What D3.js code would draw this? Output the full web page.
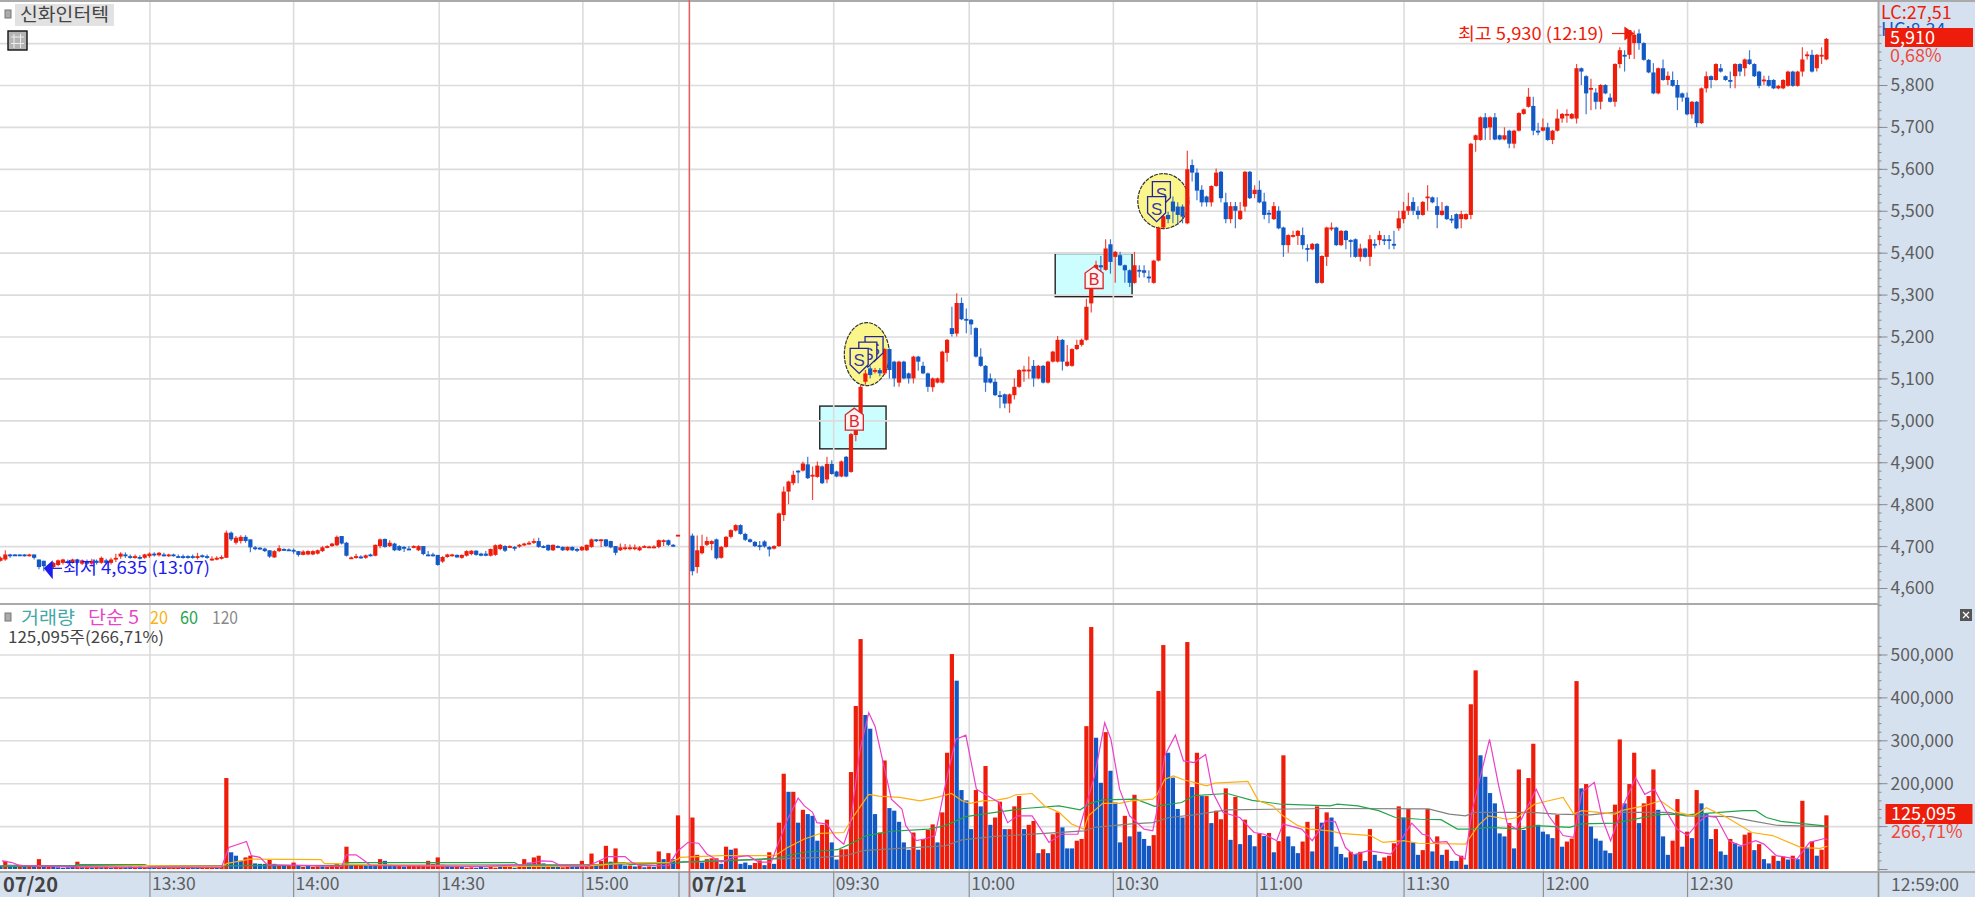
<!DOCTYPE html>
<html>
<head>
<meta charset="utf-8">
<script src="https://cdn.jsdelivr.net/npm/d3@7"></script>
<style>
  html, body { margin: 0; padding: 0; background: #fff; overflow: hidden; }
  text { font-family: "Liberation Sans Narrow", "Noto Sans CJK KR", sans-serif; }
  .kr { font-family: "Noto Sans CJK KR", sans-serif; }
  .axis path { display: none; }
</style>
</head>
<body>
<div id="chart"></div>
<script>
// one candle a minute, 07/20 afternoon then 07/21 morning. null = no trade
const opens = [
  4665,4668,4680,4680,4680,4680,4677,4680,4668,4665,
  4652,4650,4655,4660,4664,4660,4668,4658,4664,4658,
  4665,4660,4666,4660,4668,4675,4680,4676,4674,4674,
  4672,4676,4682,4678,4680,4678,4680,4676,4676,4676,
  4676,4672,4678,4676,4668,4668,4670,4672,4732,4708,
  4712,4722,4716,4697,4696,4694,4690,4673,4688,4693,
  4692,4691,4688,4679,4680,4680,4682,4688,4697,4700,
  4702,4724,4708,4670,4672,4675,4672,4680,4677,4700,
  4717,4700,4706,4700,4698,4694,4696,4690,4700,4680,
  4680,4679,4663,4674,4677,4679,4672,4677,4681,4689,
  4682,4682,4677,4679,4693,4700,4698,4698,4699,4702,
  4705,4708,4712,4700,4703,4690,4700,4698,4690,4698,
  4693,4690,4690,4698,4716,4712,4716,4712,4700,4690,
  4696,4696,4695,4690,4699,4698,4697,4698,4712,4714,
  4703,4726,null,null,4725,4650,4683,4703,4705,4716,
  4672,4698,4722,4737,4750,4729,4716,4710,4702,4711,
  4698,4694,4700,4774,4830,4850,4880,4880,4895,4867,
  4865,4890,4859,4896,4878,4866,4913,4877,4965,5015,
  5092,5124,5118,5120,5112,5170,5140,5090,5140,5112,
  5100,5152,5130,5112,5079,5090,5090,5161,5220,5207,
  5280,5242,5240,5220,5152,5130,5100,5092,5060,5062,
  5040,5060,5080,5120,5120,5130,5100,5130,5090,5140,
  5140,5192,5130,5130,5170,5180,5192,5279,5337,5370,
  5359,5420,5390,5394,5370,5358,5328,5359,5358,5343,
  5328,5381,5460,5490,5522,5510,5510,5470,5609,5591,
  5550,5534,5520,5559,5593,5520,5480,5511,5480,5510,
  5593,5540,5550,5522,5495,5480,5500,5460,5418,5438,
  5440,5442,5411,5408,5421,5328,5390,5458,5460,5418,
  5452,5430,5432,5390,5410,5390,5421,5430,5432,5432,
  5421,5458,5480,5500,5521,5500,5490,5532,5532,5511,
  5490,5511,5481,5492,5480,5480,5490,5669,5669,5723,
  5699,5723,5680,5670,5691,5660,5691,5731,5748,5750,
  5691,5691,5699,5669,5691,5720,5728,5720,5720,5840,
  5821,5792,5782,5760,5800,5770,5760,5850,5872,5872,
  5900,5923,5900,5860,5830,5780,5840,5812,5812,5800,
  5780,5770,5730,5760,5709,5792,5821,5812,5840,5821,
  5812,5821,5850,5840,5861,5850,5832,5812,5812,5812,
  5792,5792,5798,5832,5798,5832,5872,5872,5840,5870,
  5861
];
const closes = [
  4672,4680,4678,4678,4678,4678,4680,4672,4650,4652,
  4646,4660,4666,4668,4660,4668,4660,4666,4658,4665,
  4660,4672,4660,4668,4672,4682,4676,4674,4676,4672,
  4680,4682,4680,4684,4678,4680,4678,4675,4675,4674,
  4675,4676,4675,4675,4670,4672,4674,4732,4716,4720,
  4722,4712,4697,4694,4694,4688,4675,4688,4695,4692,
  4691,4690,4679,4687,4688,4688,4690,4697,4700,4706,
  4722,4706,4677,4673,4676,4674,4678,4677,4703,4716,
  4698,4708,4690,4690,4696,4693,4700,4700,4681,4678,
  4676,4655,4674,4680,4680,4673,4679,4688,4689,4679,
  4677,4677,4693,4702,4703,4689,4700,4697,4703,4706,
  4708,4712,4698,4697,4690,4703,4697,4690,4698,4690,
  4692,4698,4703,4716,4712,4716,4700,4697,4684,4697,
  4697,4697,4697,4697,4700,4699,4699,4714,4714,4703,
  4701,4727,null,null,4640,4690,4700,4712,4712,4671,
  4698,4722,4738,4750,4729,4715,4710,4700,4700,4699,
  4692,4700,4778,4830,4854,4870,4877,4897,4862,4870,
  4892,4850,4896,4872,4866,4902,4866,4967,5015,5080,
  5112,5108,5120,5112,5170,5120,5100,5140,5100,5100,
  5152,5140,5112,5080,5100,5100,5164,5192,5206,5280,
  5241,5240,5229,5152,5130,5090,5090,5060,5057,5040,
  5062,5080,5120,5121,5121,5100,5130,5090,5140,5164,
  5192,5140,5140,5170,5180,5192,5271,5315,5371,5365,
  5410,5378,5402,5370,5358,5328,5370,5358,5352,5342,
  5381,5460,5487,5480,5498,5490,5486,5599,5591,5548,
  5520,5520,5559,5591,5530,5480,5511,5500,5500,5593,
  5530,5550,5520,5490,5493,5511,5458,5418,5442,5442,
  5452,5418,5408,5421,5328,5392,5460,5460,5418,5452,
  5430,5428,5390,5410,5390,5432,5419,5442,5430,5430,
  5420,5482,5500,5511,5500,5490,5521,5534,5520,5490,
  5500,5480,5480,5458,5492,5492,5660,5680,5723,5697,
  5723,5670,5670,5680,5660,5691,5733,5742,5772,5691,
  5690,5699,5669,5691,5720,5731,5731,5731,5840,5832,
  5780,5793,5760,5800,5780,5760,5850,5883,5870,5931,
  5920,5900,5860,5830,5780,5840,5812,5822,5798,5770,
  5770,5730,5760,5709,5792,5821,5812,5850,5832,5812,
  5811,5850,5832,5861,5850,5821,5798,5813,5798,5792,
  5798,5812,5832,5798,5832,5861,5873,5832,5872,5872,
  5910
];
const highs = [
  4675,4690,4682,4681,4680,4681,4682,4680,4668,4665,
  4656,4662,4668,4670,4668,4670,4670,4668,4668,4670,
  4668,4675,4670,4672,4682,4685,4685,4680,4680,4678,
  4682,4685,4685,4686,4684,4682,4682,4680,4680,4678,
  4680,4684,4680,4680,4676,4676,4678,4737,4735,4724,
  4726,4726,4716,4700,4698,4696,4690,4690,4702,4695,
  4694,4694,4688,4690,4690,4690,4692,4700,4702,4708,
  4725,4724,4710,4675,4682,4678,4680,4682,4704,4718,
  4718,4714,4708,4702,4700,4700,4702,4702,4700,4688,
  4684,4679,4676,4682,4682,4680,4680,4690,4690,4690,
  4684,4688,4694,4704,4705,4702,4702,4700,4705,4708,
  4712,4718,4720,4702,4703,4704,4702,4699,4699,4699,
  4696,4700,4704,4718,4717,4717,4717,4713,4700,4706,
  4705,4704,4704,4700,4702,4701,4702,4716,4716,4716,
  4705,4727,null,null,4730,4725,4727,4722,4714,4718,
  4700,4724,4740,4752,4752,4732,4718,4712,4712,4714,
  4700,4702,4780,4842,4856,4880,4881,4901,4913,4890,
  4902,4892,4913,4905,4880,4904,4915,4970,5020,5085,
  5120,5130,5125,5125,5172,5172,5142,5142,5142,5114,
  5154,5154,5140,5114,5102,5102,5166,5194,5271,5303,
  5293,5267,5242,5222,5172,5132,5112,5100,5070,5064,
  5064,5100,5122,5130,5152,5144,5132,5132,5142,5166,
  5201,5194,5180,5172,5192,5195,5290,5318,5381,5392,
  5432,5432,5404,5402,5372,5360,5402,5370,5370,5358,
  5383,5462,5490,5498,5534,5520,5515,5643,5622,5601,
  5561,5536,5561,5601,5595,5543,5521,5521,5521,5595,
  5595,5561,5572,5543,5502,5521,5511,5462,5444,5452,
  5454,5460,5420,5423,5423,5394,5462,5472,5462,5454,
  5454,5432,5434,5421,5412,5442,5432,5452,5442,5442,
  5452,5500,5521,5543,5532,5511,5523,5561,5534,5532,
  5521,5513,5490,5494,5500,5494,5662,5682,5725,5733,
  5725,5733,5682,5699,5693,5693,5735,5744,5793,5772,
  5710,5720,5710,5693,5742,5733,5742,5733,5850,5842,
  5823,5815,5792,5802,5802,5780,5852,5890,5883,5931,
  5930,5933,5902,5862,5852,5842,5861,5832,5832,5812,
  5782,5782,5762,5762,5794,5832,5823,5852,5850,5823,
  5832,5852,5852,5863,5883,5852,5834,5822,5822,5814,
  5800,5814,5834,5834,5834,5890,5880,5884,5874,5890,
  5912
];
const lows = [
  4663,4665,4672,4677,4678,4675,4675,4668,4645,4640,
  4635,4648,4652,4656,4658,4658,4656,4655,4655,4655,
  4656,4658,4656,4656,4662,4670,4672,4670,4670,4668,
  4670,4672,4675,4675,4675,4674,4675,4672,4670,4670,
  4670,4668,4672,4670,4665,4666,4668,4672,4712,4704,
  4706,4708,4685,4690,4692,4686,4672,4672,4686,4690,
  4690,4682,4675,4678,4678,4678,4680,4686,4695,4698,
  4700,4704,4675,4670,4670,4670,4670,4675,4676,4695,
  4696,4698,4688,4688,4686,4692,4695,4688,4678,4676,
  4675,4653,4660,4672,4675,4672,4670,4675,4678,4677,
  4676,4676,4675,4677,4690,4686,4696,4689,4696,4700,
  4703,4705,4696,4695,4688,4688,4695,4688,4688,4688,
  4686,4688,4688,4696,4710,4698,4698,4695,4678,4688,
  4690,4690,4690,4688,4696,4696,4695,4695,4700,4700,
  4698,4726,null,null,4630,4635,4680,4700,4690,4668,
  4670,4696,4718,4735,4727,4712,4708,4698,4690,4696,
  4675,4692,4698,4760,4800,4845,4850,4878,4860,4810,
  4863,4848,4850,4870,4864,4864,4864,4875,4950,5012,
  5085,5100,5112,5105,5108,5100,5080,5080,5098,5088,
  5088,5118,5110,5068,5068,5088,5088,5140,5200,5200,
  5239,5208,5204,5150,5128,5068,5088,5058,5029,5029,
  5018,5050,5078,5092,5100,5080,5098,5088,5088,5138,
  5138,5119,5128,5128,5168,5176,5190,5257,5335,5350,
  5357,5350,5328,5368,5328,5318,5326,5341,5341,5328,
  5326,5379,5458,5470,5470,5466,5470,5468,5570,5525,
  5510,5510,5510,5557,5520,5470,5470,5458,5478,5498,
  5528,5530,5518,5480,5470,5478,5456,5390,5400,5436,
  5418,5408,5379,5406,5326,5326,5368,5452,5416,5416,
  5408,5389,5388,5379,5388,5368,5410,5418,5418,5408,
  5408,5452,5470,5490,5490,5480,5488,5500,5518,5458,
  5488,5478,5470,5456,5458,5478,5480,5641,5667,5669,
  5669,5668,5668,5668,5649,5649,5689,5729,5746,5680,
  5680,5689,5667,5659,5689,5710,5710,5718,5708,5800,
  5730,5740,5742,5742,5778,5758,5748,5840,5832,5862,
  5862,5884,5858,5828,5778,5778,5810,5800,5796,5740,
  5760,5728,5720,5699,5707,5782,5792,5810,5830,5810,
  5792,5792,5821,5821,5848,5819,5792,5800,5796,5790,
  5790,5790,5796,5796,5796,5820,5861,5830,5832,5850,
  5859
];

// volume in thousands of shares, with the up/down side of each bar
const volumes = [
  8,19,10,10,10,5,8,8,23,8,
  8,5,4,3,4,8,17,5,8,4,
  5,4,6,3,5,4,4,6,5,6,
  3,4,5,3,6,6,4,3,5,3,
  4,3,5,3,6,4,8,212,39,31,
  19,27,31,13,12,12,21,12,9,9,
  9,15,8,5,7,5,6,6,5,8,
  12,8,52,10,10,10,8,8,10,23,
  19,10,8,8,6,8,7,8,8,19,
  12,27,10,8,6,6,5,3,4,3,
  6,3,5,3,8,6,5,3,6,23,
  15,27,31,13,10,8,5,4,5,6,
  6,19,6,36,8,19,54,17,48,12,
  8,8,6,8,4,6,5,41,23,37,
  23,125,null,null,120,33,15,23,25,25,
  12,52,45,48,12,15,9,14,20,9,
  39,12,108,222,180,180,108,138,128,124,
  66,103,115,62,22,46,46,226,380,536,
  359,327,128,85,253,142,136,110,62,45,
  85,45,70,91,104,62,132,271,501,439,
  184,160,93,184,146,240,103,120,157,93,
  93,146,170,93,103,112,37,46,37,81,
  132,97,48,48,66,70,333,564,306,201,
  319,229,155,62,124,76,173,87,70,54,
  79,415,522,271,213,140,120,529,191,271,
  170,170,107,136,116,188,68,168,58,115,
  79,53,83,77,84,39,65,265,76,53,
  37,64,110,41,146,108,132,120,52,35,
  27,40,35,40,19,93,33,19,27,31,
  60,146,120,140,62,33,44,140,41,76,
  33,45,19,19,31,10,384,463,265,215,
  177,153,83,76,107,48,232,91,212,292,
  103,87,81,72,126,52,64,71,438,188,
  198,99,71,66,43,37,150,302,153,198,
  271,107,153,170,232,138,76,33,66,163,
  52,87,72,184,153,128,70,93,41,33,
  70,60,53,80,85,44,58,23,13,31,
  19,29,22,31,23,159,50,64,31,45,
  125.095
];
const volumeSides = (
  "BRBBRBRBRB" + "RBBBBBRBRB" + "RBRBRRBBRB" + "RBBRBRRRBR" + "BBRRRBRRBB" +
  "BRRBBBRBRB" + "RRBRBRRBRR" + "RRRBRRBBBR" + "BBBRBRRRRR" + "RRRBBRBRRB" +
  "BBRRBRRBRR" + "BRRBRBBRRB" + "BRRRBRRBRB" + "BRBRBRBRBR" + "BR..RRBRRR" +
  "BRBRBBBRRB" + "RBRRBRBRBB" + "BRRBBRRRRR" + "BBBRRBBBBB" + "RBRRRBRRRB" +
  "BBBRBRBRRB" + "RRRBRRBRBR" + "RBBBRRRRBB" + "RBBBRBRBBB" + "RRRBBBBRBR" +
  "BRBRRRBRBR" + "BBRBRBRRBB" + "BRRBRBRBBB" + "BRBRBRBBRR" + "RRBRBBRRBR" +
  "BRBBRBRRBB" + "BBBBRBRBRR" + "BBBBRBRRRB" + "RBBBBBRRBR" + "RBRRRBBBRR" +
  "BRBRBBBRBB" + "RBBRRBRBBR" + "BRBRBRBRBR" + "R"
).split("");

// moving averages, read at their corners: bar position and value (thousands)
const ma5Index = [0.3,2.4,4,16,30,46,47.5,51.2,52.2,54,55.5,71,72,74,75.9,77,100,109,112.7,114.8,116.5,122,123.4,126.5,130,131.4,133,139,141,
  141.4,143.1,145.3,147,148.3,150,152.6,155.6,157.8,160.4,161.7,163.8,166,167.3,169,169.9,172,173.8,175.5,176.8,178.9,180.7,182,183.7,185.4,187.6,188.4,190.6,192.3,194.5,196.6,198.8,200.9,203.1,207.8,209.6,211.7,214.7,216.5,218.2,220.8,224.2,225.5,227.7,229.8,231.1,232.9,235,238,239.8,240.6,242.3,244.5,246.2,248.4,250.8,252.3,254.4,257.9,260.9,263,265.6,266.9,270.8,273,275.8,
  277.8,279.9,281.6,284.7,289.4,291.6,293.7,295.9,297.2,298.2,301,302.8,304.8,306.2,308,309.9,311.8,313.6,315.5,319.6,322.2,325.2,327.4,329.1,331.7,333.4,335.1,337.7,340.3,342.2,344.2,346.4,348.9,351.1,353.3,355,357.1,359.7,362.3,365.3,367,369.6,373.9,376.5,379.6,380.2];
const ma5Values = [19,15,8,5,4,4,50,64,31,27,10,6,33,33,18,8,6,10,19,18,8,6,13,29,29,15,8,8,43,
  46,62,60,35,27,16,27,31,16,16,54,116,165,147,132,108,105,74,58,101,279,364,333,248,163,140,101,66,70,78,194,302,312,186,155,108,124,124,93,62,81,81,132,217,341,302,186,124,93,89,132,264,312,252,248,267,178,132,120,85,81,66,105,93,66,112,
  110,50,33,43,35,70,107,81,78,62,64,35,23,132,217,302,194,105,93,186,124,78,74,178,202,116,66,147,213,174,186,140,93,78,108,124,120,66,54,66,58,31,23,62,71,68];
const ma20Index = [16,30,46,47.2,52,66.7,67.4,76,100,116,123,131,139,141,
  141.4,150,161.2,163.8,167.3,170.7,175.5,177.6,180.7,182.8,187.1,191.4,194.9,197.9,200.1,201.8,204.4,207,209.6,211.3,214.7,217.3,220.3,222.9,225.5,226.4,229.4,232.9,235.4,239.8,240.6,242.3,244.1,246.2,248.4,251,252.7,259.6,261.8,264.8,266.9,270,272.5,276.7,
  279,285.1,287.7,292,295,304.9,307.5,309.7,313.6,315.7,319.2,322.2,325.2,327.4,329.1,336,337.3,342,345.5,348.9,352.4,355,359.3,364.5,368.8,374.8,378.7,380.2];
const ma20Values = [5,8,6,13,23,22,13,10,6,6,8,15,15,23,
  27,31,31,50,70,83,85,124,174,170,167,159,167,176,159,153,159,160,165,173,176,147,132,105,93,124,153,153,159,163,171,209,217,208,202,194,200,204,159,147,124,101,93,89,
  83,78,62,66,60,58,101,124,116,120,151,159,167,128,136,128,136,147,159,132,124,143,120,85,78,50,48,53];
const ma60Index = [0,15,16,30,31,46,47,71,72,107,108,125,126,130,131,141,
  141.4,150.9,161.2,163.8,167.3,174.2,176.8,180.2,185.4,193.2,196.6,200.9,207,213,220.3,224.7,226.8,229.4,236.3,240.2,245.8,248.4,255.3,260.5,266.5,276.7,
  278.2,282.5,286.8,290.3,295.4,299.8,303.2,305.8,310.1,316.2,319.6,326.5,329.1,336,344.6,347.2,350.7,362.7,365.3,367.5,370.5,379.1,380.2];
const ma60Values = [6,6,10,10,6,6,8,8,15,15,8,8,13,15,10,14,
  16,19,25,31,39,45,58,78,88,93,101,122,132,141,147,138,153,161,163,146,155,171,176,160,151,147,
  151,147,136,120,116,115,93,93,97,93,101,97,105,107,126,128,126,136,136,120,111,101,99];
const ma120Index = [0,47,125,141,141.4,170.7,175.9,179.4,189.7,196.6,200.1,207,217.3,225.5,227.7,235.4,239.8,243.2,248.4,255.3,276.7,297.2,301.5,304.9,306.7,318.7,323.9,330.8,336,347.2,350.7,360.2,364.5,369.6,380.2];
const ma120Values = [8,8,10,14,16,27,31,43,50,54,68,76,83,89,97,105,108,120,126,138,141,140,128,124,132,132,128,126,132,132,124,122,112,102,99];

// ticks
const priceTicks = [4600,4700,4800,4900,5000,5100,5200,5300,5400,5500,5600,5700,5800,5900];
const volumeTicks = [0,100,200,300,400,500];
const timeIndex = [31,60.9,91.2,121.1,143.35,173.3,201.5,231.5,261.4,292,321,351];
const timeLabels = ["13:30","14:00","14:30","15:00","07/21","09:30","10:00","10:30","11:00","11:30","12:00","12:30"];
const dayBreakIndex = 141.1;

// signal markers
const boxIndex = [[170.5,184.3],[219.5,235.5]];
const boxPrice = [[5034,4932],[5398,5295]];
const ovalIndex = [180.3,242];
const ovalPrice = [5158,5523];
const buyIndex = [177.7,227.6];
const buyPrice = [5029,5367];
const sellIndex = [181.8,180.5,178.7,241.6,240.6];
const sellPrice = [5140,5127,5112,5510,5474];

const width = 1975, height = 897;
const plotRight = 1878.5, axisTop = 872;
const red = "#ee1c0a", blue = "#1259c6";
const gridColor = "#dcdcdc", panelColor = "#d6e1ef";

const svg = d3.select("#chart").append("svg")
  .attr("width", width).attr("height", height)
  .style("display", "block");

const x = d3.scaleLinear().domain([0, 380]).range([0.5, 1826.4]);
const yPrice = d3.scaleLinear().domain([4600, 5800]).range([588, 85]);
const yVolume = d3.scaleLinear().domain([0, 500]).range([869, 654.5]);

svg.append("rect").attr("width", width).attr("height", height).attr("fill", "#fff");

// axis panels
svg.append("rect").attr("x", plotRight).attr("width", width - plotRight).attr("height", height).attr("fill", panelColor);
svg.append("rect").attr("y", axisTop).attr("width", width).attr("height", height - axisTop).attr("fill", panelColor);

// cyan buy boxes sit under the grid
boxIndex.forEach((b, k) => {
  svg.append("rect")
    .attr("x", x(b[0])).attr("width", x(b[1]) - x(b[0]))
    .attr("y", yPrice(boxPrice[k][0])).attr("height", yPrice(boxPrice[k][1]) - yPrice(boxPrice[k][0]))
    .attr("fill", "#ccfdff").attr("stroke", "#222").attr("stroke-width", 1.4);
});

// grid
function styleGrid(g) {
  g.attr("class", "axis");
  g.selectAll("line").attr("stroke", gridColor).attr("stroke-width", 1.6);
  g.selectAll("text").remove();
}
svg.append("g").attr("transform", `translate(${plotRight},0)`)
  .call(d3.axisRight(yPrice).tickValues(priceTicks).tickSize(-plotRight)).call(styleGrid);
svg.append("g").attr("transform", `translate(${plotRight},0)`)
  .call(d3.axisRight(yVolume).tickValues(volumeTicks.slice(1)).tickSize(-plotRight)).call(styleGrid);
svg.append("g").attr("transform", `translate(0,${axisTop})`)
  .call(d3.axisTop(x).tickValues(timeIndex.concat([dayBreakIndex])).tickSize(axisTop - 2)).call(styleGrid);

// oval behind the candles
ovalIndex.forEach((d, k) => {
  svg.append("ellipse")
    .attr("cx", x(d)).attr("cy", yPrice(ovalPrice[k]))
    .attr("rx", k ? 25.5 : 22.5).attr("ry", k ? 27.5 : 31.5)
    .attr("fill", "#fbf68c").attr("stroke", "#333").attr("stroke-width", 1.2).attr("stroke-dasharray", "4,1");
});

// candles
const bars = d3.range(opens.length).filter(i => opens[i] !== null);
const candleWidth = 4.2;
const candles = svg.append("g").selectAll("g").data(bars).join("g")
  .attr("fill", i => closes[i] >= opens[i] ? red : blue)
  .attr("stroke", i => closes[i] >= opens[i] ? red : blue);
candles.append("line")
  .attr("x1", i => x(i)).attr("x2", i => x(i))
  .attr("y1", i => yPrice(highs[i])).attr("y2", i => yPrice(lows[i]))
  .attr("stroke-width", 1.2).attr("stroke-opacity", 0.8);
candles.append("rect")
  .attr("x", i => x(i) - candleWidth / 2).attr("width", candleWidth)
  .attr("y", i => yPrice(Math.max(opens[i], closes[i])))
  .attr("height", i => Math.max(1.8, Math.abs(yPrice(opens[i]) - yPrice(closes[i]))))
  .attr("stroke", "none");

// volume bars
const barWidth = 4.2;
svg.append("g").selectAll("rect").data(bars).join("rect")
  .attr("x", i => x(i) - barWidth / 2).attr("width", barWidth)
  .attr("y", i => yVolume(volumes[i]))
  .attr("height", i => yVolume(0) - yVolume(volumes[i]))
  .attr("fill", i => volumeSides[i] === "R" ? red : blue);

// moving averages
const maLine = d3.line().x(d => x(d[0])).y(d => yVolume(d[1]));
[[ma120Index, ma120Values, "#808080"], [ma60Index, ma60Values, "#22a54a"],
 [ma20Index, ma20Values, "#fdb012"], [ma5Index, ma5Values, "#ee3fc8"]].forEach(m => {
  svg.append("path")
    .attr("d", maLine(d3.zip(m[0], m[1])))
    .attr("fill", "none").attr("stroke", m[2]).attr("stroke-width", 1.2);
});

// B and S signals
function house(cx, top, w, h) {
  return [[cx, top], [cx + w / 2, top + h * 0.3], [cx + w / 2, top + h], [cx - w / 2, top + h], [cx - w / 2, top + h * 0.3]];
}
function shield(cx, tip, w, h) {
  return [[cx - w / 2, tip - h], [cx + w / 2, tip - h], [cx + w / 2, tip - h * 0.35], [cx, tip], [cx - w / 2, tip - h * 0.35]];
}
buyIndex.forEach((d, k) => {
  const cx = x(d), top = yPrice(buyPrice[k]);
  svg.append("polygon").attr("points", house(cx, top, 18, 22).join(" "))
    .attr("fill", "#fff2f2").attr("stroke", "#d8242a").attr("stroke-width", 1.3);
  svg.append("text").attr("x", cx).attr("y", top + 19).attr("text-anchor", "middle")
    .attr("font-size", 16).style("font-family", "'Liberation Sans'").attr("fill", "#d8242a").text("B");
});
sellIndex.forEach((d, k) => {
  const cx = x(d), tip = yPrice(sellPrice[k]);
  svg.append("polygon").attr("points", shield(cx, tip, 18, 25).join(" "))
    .attr("fill", "#fbf68c").attr("stroke", "#24249a").attr("stroke-width", 1.3);
  svg.append("text").attr("x", cx).attr("y", tip - 7).attr("text-anchor", "middle")
    .attr("font-size", 17).style("font-family", "'Liberation Sans'").attr("fill", "#3a3aa8").text("S");
});

// high and low notes
const noteHigh = svg.append("g").attr("fill", red);
noteHigh.append("text").attr("class", "kr").attr("x", 1458).attr("y", yPrice(5930) + 9)
  .attr("font-size", 17).attr("textLength", 146).attr("lengthAdjust", "spacingAndGlyphs").text("최고 5,930 (12:19)");
noteHigh.append("line").attr("x1", 1612).attr("x2", 1630).attr("y1", yPrice(5930) + 3).attr("y2", yPrice(5930) + 3)
  .attr("stroke", red).attr("stroke-width", 1.2);
noteHigh.append("polygon").attr("transform", `translate(${x(339) + 4},${yPrice(5930) + 3})`)
  .attr("points", "-9,-7 1,0 -9,7");

const noteLow = svg.append("g").attr("fill", "#1c1cf0");
noteLow.append("text").attr("class", "kr").attr("x", 63).attr("y", yPrice(4635) + 1)
  .attr("font-size", 17).attr("textLength", 147).attr("lengthAdjust", "spacingAndGlyphs").text("최저 4,635 (13:07)");
noteLow.append("polygon").attr("transform", `translate(${x(9)},${yPrice(4635) - 5})`)
  .attr("points", "0,0 9,-8 9,11");
noteLow.append("line").attr("x1", 50).attr("x2", 62).attr("y1", yPrice(4635) - 5).attr("y2", yPrice(4635) - 5)
  .attr("stroke", "#1c1cf0").attr("stroke-width", 1.2);

// frame lines
svg.append("rect").attr("width", width).attr("height", 2).attr("fill", "#aaa");
svg.append("rect").attr("y", 603).attr("width", plotRight).attr("height", 2).attr("fill", "#aaa");
svg.append("rect").attr("y", axisTop - 1).attr("width", width).attr("height", 2).attr("fill", "#a8a8a8");
svg.append("rect").attr("x", plotRight - 1).attr("width", 2).attr("height", height).attr("fill", "#a8a8a8");

// day change marker
svg.append("line").attr("x1", x(143.35)).attr("x2", x(143.35)).attr("y1", 0).attr("y2", height)
  .attr("stroke", "#ea5a5a").attr("stroke-width", 1.4);

// right axes
function styleValueAxis(g) {
  g.attr("class", "axis");
  g.selectAll("line").attr("stroke", "#8a8a8a");
  g.selectAll("text").attr("fill", "#5e5e5e").attr("font-size", 17.5).attr("dy", "0.34em");
}
const fmt = d3.format(",");
const priceMinor = d3.range(4560, 5960, 20);
svg.append("g").attr("transform", `translate(${plotRight},0)`)
  .call(d3.axisRight(yPrice).tickValues(priceMinor).tickSize(3).tickFormat(""))
  .call(styleValueAxis);
svg.append("g").attr("transform", `translate(${plotRight},0)`)
  .call(d3.axisRight(yPrice).tickValues(priceTicks.slice(0, 13)).tickSize(9).tickPadding(3).tickFormat(fmt))
  .call(styleValueAxis);
svg.append("g").attr("transform", `translate(${plotRight},0)`)
  .call(d3.axisRight(yVolume).tickValues(d3.range(0, 560, 20)).tickSize(3).tickFormat(""))
  .call(styleValueAxis);
svg.append("g").attr("transform", `translate(${plotRight},0)`)
  .call(d3.axisRight(yVolume).tickValues(volumeTicks).tickSize(9).tickPadding(3)
    .tickFormat(d => d >= 200 ? fmt(d * 1000) : ""))
  .call(styleValueAxis);

// bottom axis
const timeAxis = svg.append("g").attr("transform", `translate(0,${axisTop})`)
  .call(d3.axisBottom(x).tickValues(timeIndex.concat([dayBreakIndex])).tickSize(25)
    .tickFormat(d => { const k = timeIndex.indexOf(d); return k < 0 ? "" : timeLabels[k]; }));
timeAxis.attr("class", "axis");
timeAxis.selectAll("line").attr("stroke", "#8f8f8f").attr("stroke-width", 1.2);
timeAxis.selectAll("text")
  .attr("text-anchor", "start").attr("x", 2).attr("y", 6).attr("dy", "0.71em")
  .attr("fill", "#5e5e5e").attr("font-size", 17.5)
  .filter(d => d === 143.35).attr("fill", "#444").attr("font-weight", "bold").attr("font-size", 20);
svg.append("text").attr("x", 3).attr("y", 892).attr("fill", "#444").attr("font-weight", "bold").attr("font-size", 20).text("07/20");
svg.append("text").attr("x", 1891).attr("y", 891).attr("fill", "#5e5e5e").attr("font-size", 17.5).text("12:59:00");
svg.append("line").attr("x1", plotRight).attr("x2", plotRight).attr("y1", axisTop).attr("y2", height).attr("stroke", "#8f8f8f");

// top right readouts
svg.append("text").attr("x", 1881).attr("y", 19).attr("fill", red).attr("font-size", 18).text("LC:27,51");
svg.append("text").attr("x", 1881).attr("y", 36).attr("fill", blue).attr("font-size", 18).text("HC:8,34");
svg.append("rect").attr("x", 1885).attr("y", 28).attr("width", 88).attr("height", 19).attr("fill", red);
svg.append("text").attr("x", 1890).attr("y", 44).attr("fill", "#fff").attr("font-size", 18).text("5,910");
svg.append("text").attr("x", 1890).attr("y", 62).attr("fill", "#ee4a3c").attr("font-size", 18).text("0,68%");
svg.append("rect").attr("x", 1885.5).attr("y", 804).attr("width", 87).attr("height", 20).attr("fill", red);
svg.append("text").attr("x", 1891).attr("y", 820).attr("fill", "#fff").attr("font-size", 18).text("125,095");
svg.append("text").attr("x", 1891).attr("y", 838).attr("fill", "#ee4a3c").attr("font-size", 18).text("266,71%");

// title and legend
svg.append("rect").attr("x", 5).attr("y", 10).attr("width", 6).attr("height", 8).attr("fill", "#aaa").attr("stroke", "#777");
svg.append("rect").attr("x", 15).attr("y", 4).attr("width", 99).attr("height", 22).attr("fill", "#e2e2e2");
svg.append("text").attr("class", "kr").attr("x", 20).attr("y", 21).attr("fill", "#444").attr("font-size", 18)
  .attr("textLength", 89).attr("lengthAdjust", "spacingAndGlyphs").text("신화인터텍");
const tableIcon = svg.append("g").attr("transform", "translate(8,31)");
tableIcon.append("rect").attr("width", 19).attr("height", 19).attr("fill", "#b4b4b4").attr("stroke", "#111").attr("stroke-width", 1.4);
[6, 12.5].forEach(v => tableIcon.append("line").attr("x1", v).attr("x2", v).attr("y1", 3).attr("y2", 17).attr("stroke", "#eee"));
[6, 12.5].forEach(v => tableIcon.append("line").attr("y1", v).attr("y2", v).attr("x1", 3).attr("x2", 16).attr("stroke", "#eee"));

svg.append("rect").attr("x", 5).attr("y", 613).attr("width", 6).attr("height", 8).attr("fill", "#aaa").attr("stroke", "#777");
const legendNames = ["거래량", "단순 5", "20", "60", "120"];
const legendX = [21, 88, 150, 180, 212];
const legendLength = [54, 51, 18, 18, 26];
const legendColors = ["#44a8a8", "#e648c4", "#f8b414", "#2aa552", "#8a8a8a"];
legendNames.forEach((t, k) => {
  svg.append("text").attr("class", "kr").attr("x", legendX[k]).attr("y", 624)
    .attr("font-size", 18).attr("fill", legendColors[k])
    .attr("textLength", legendLength[k]).attr("lengthAdjust", "spacingAndGlyphs").text(t);
});
svg.append("text").attr("class", "kr").attr("x", 8).attr("y", 643).attr("font-size", 16).attr("fill", "#444")
  .attr("textLength", 156).attr("lengthAdjust", "spacingAndGlyphs").text("125,095주(266,71%)");

// small expand button of the volume pane
const expand = svg.append("g").attr("transform", "translate(1960,609)");
expand.append("rect").attr("width", 12).attr("height", 12).attr("fill", "#555");
expand.append("path").attr("d", "M3,3L9,9M9,3L3,9").attr("stroke", "#fff").attr("stroke-width", 1.2);
</script>
</body>
</html>
